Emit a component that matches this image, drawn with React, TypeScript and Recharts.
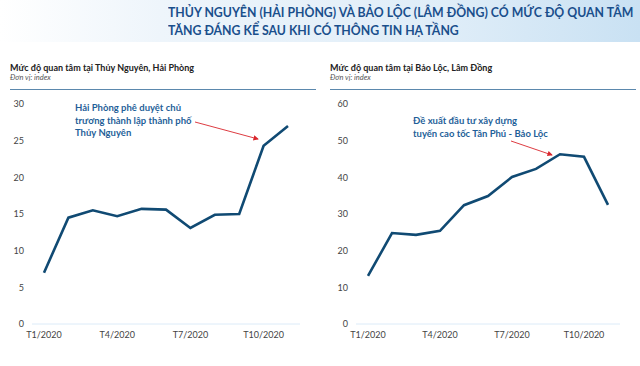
import { LineChart, Line, XAxis, YAxis } from 'recharts'

const MONTHS = ['T1/2020', 'T2/2020', 'T3/2020', 'T4/2020', 'T5/2020', 'T6/2020', 'T7/2020', 'T8/2020', 'T9/2020', 'T10/2020', 'T11/2020']
const THUY_NGUYEN = [7.0, 14.5, 15.5, 14.7, 15.7, 15.6, 13.1, 14.9, 15.0, 24.3, 27.0]
const BAO_LOC = [13.1, 24.8, 24.3, 25.4, 32.4, 34.9, 40.1, 42.3, 46.3, 45.6, 32.5]
const LEFT_TICKS = [0, 5, 10, 15, 20, 25, 30]
const RIGHT_TICKS = [0, 10, 20, 30, 40, 50, 60]

const FONT = 'Lato, "Open Sans", sans-serif'
const LINE_COLOR = '#104a73'
const NOTE_COLOR = '#1f5f99'
const AXIS_LINE = '#dcebf8'
const TICK = { fontSize: 9, fill: '#444', fontFamily: FONT }

const leftData = MONTHS.map((m, i) => ({ month: m, value: THUY_NGUYEN[i] }))
const rightData = MONTHS.map((m, i) => ({ month: m, value: BAO_LOC[i] }))

function Panel({ left, title }: { left: number; title: string }) {
  return (
    <div style={{ position: 'absolute', left, top: 62, width: 306 }}>
      <div style={{ fontSize: 9, fontWeight: 700, color: '#222', fontFamily: FONT }}>{title}</div>
      <div style={{ fontSize: 7.5, fontStyle: 'italic', color: '#555', fontFamily: FONT, marginTop: 0 }}>Đơn vị: index</div>
      <div style={{ position: 'absolute', top: 27, left: 0, width: 306, borderTop: '1px solid #5b88ad' }} />
    </div>
  )
}

function TrendChart({ data, ticks, max, left, marginLeft, yWidth }: { data: { month: string; value: number }[]; ticks: number[]; max: number; left: number; marginLeft: number; yWidth: number }) {
  return (
    <div style={{ position: 'absolute', left, top: 90 }}>
      <LineChart width={320} height={271} data={data} margin={{ top: 14, right: 20, left: marginLeft, bottom: 17 }}>
        <XAxis dataKey="month" interval={2} padding={{ left: 12, right: 12 }} tickLine={false} axisLine={{ stroke: AXIS_LINE, strokeWidth: 1 }} tick={TICK} height={20} tickMargin={2} />
        <YAxis domain={[0, max]} ticks={ticks} tickLine={false} axisLine={false} tick={TICK} width={yWidth} tickMargin={2} />
        <Line type="linear" dataKey="value" stroke={LINE_COLOR} strokeWidth={2.6} dot={false} isAnimationActive={false} />
      </LineChart>
    </div>
  )
}

export default function App() {
  return (
    <div style={{ position: 'absolute', left: 0, top: 0, width: 640, height: 366, background: '#fff', overflow: 'hidden', fontFamily: FONT }}>
      <div style={{ position: 'absolute', left: 0, top: 0, width: 640, height: 42, background: 'linear-gradient(90deg, #ffffff 0%, #eef5fb 25%, #dfedf8 70%, #c9e1f3 100%)' }} />
      <div style={{ position: 'absolute', left: 168, top: 3, fontSize: 13.5, fontWeight: 700, color: '#1a4f8c', lineHeight: '18px', whiteSpace: 'nowrap', transform: 'scaleX(0.91)', transformOrigin: 'left top' }}>
        <div>THỦY NGUYÊN (HẢI PHÒNG) VÀ BẢO LỘC (LÂM ĐỒNG) CÓ MỨC ĐỘ QUAN TÂM</div>
        <div>TĂNG ĐÁNG KỂ SAU KHI CÓ THÔNG TIN HẠ TẦNG</div>
      </div>
      <Panel left={10} title="Mức độ quan tâm tại Thủy Nguyên, Hải Phòng" />
      <Panel left={330} title="Mức độ quan tâm tại Bảo Lộc, Lâm Đồng" />
      <TrendChart data={leftData} ticks={LEFT_TICKS} max={30} left={0} marginLeft={0} yWidth={32} />
      <TrendChart data={rightData} ticks={RIGHT_TICKS} max={60} left={320} marginLeft={4} yWidth={32} />
      <div style={{ position: 'absolute', left: 75, top: 102, fontSize: 9.5, fontWeight: 700, color: NOTE_COLOR, lineHeight: '12.5px', whiteSpace: 'nowrap' }}>
        <div>Hải Phòng phê duyệt chủ</div>
        <div>trương thành lập thành phố</div>
        <div>Thủy Nguyên</div>
      </div>
      <div style={{ position: 'absolute', left: 413, top: 114, fontSize: 9.5, fontWeight: 700, color: NOTE_COLOR, lineHeight: '13px', whiteSpace: 'nowrap' }}>
        <div>Đề xuất đầu tư xây dựng</div>
        <div>tuyến cao tốc Tân Phú - Bảo Lộc</div>
      </div>
      <svg width={640} height={366} style={{ position: 'absolute', left: 0, top: 0, pointerEvents: 'none' }}>
        <defs>
          <marker id="arrowHead" markerWidth="6" markerHeight="6" refX="5" refY="3" orient="auto">
            <path d="M0,0 L6,3 L0,6 z" fill="#d9262c" />
          </marker>
        </defs>
        <line x1={195} y1={122} x2={258} y2={139} stroke="#d9262c" strokeWidth={0.9} markerEnd="url(#arrowHead)" />
        <line x1={511} y1={141} x2={552} y2={155} stroke="#d9262c" strokeWidth={0.9} markerEnd="url(#arrowHead)" />
      </svg>
    </div>
  )
}
